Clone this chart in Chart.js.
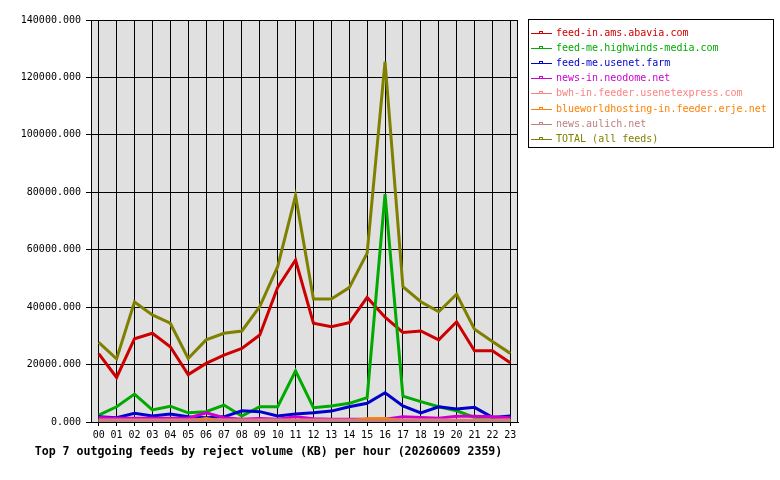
<!DOCTYPE html>
<html>
<head>
<meta charset="utf-8">
<script src="https://cdn.jsdelivr.net/npm/chart.js@4.4.1/dist/chart.umd.min.js"></script>
<style>
  html, body { margin: 0; padding: 0; background: #fff; }
  #wrap { width: 780px; height: 480px; position: relative; }
</style>
</head>
<body>
<div id="wrap"><canvas id="feeds-chart" width="780" height="480"></canvas></div>
<script>
// hours 00..23
const hours = ['00','01','02','03','04','05','06','07','08','09','10','11',
               '12','13','14','15','16','17','18','19','20','21','22','23'];

const feedNames = [
    'feed-in.ams.abavia.com',
    'feed-me.highwinds-media.com',
    'feed-me.usenet.farm',
    'news-in.neodome.net',
    'bwh-in.feeder.usenetexpress.com',
    'blueworldhosting-in.feeder.erje.net',
    'news.aulich.net',
    'TOTAL (all feeds)'
];
const feedColors = ['#cc0000', '#00aa00', '#0000cc', '#cc00cc', '#ff8080', '#ff8000', '#c08080', '#808000'];

// reject volume (KB) per hour
const abavia    = [23800, 15500, 29000, 30900, 26200, 16500, 20400, 23300, 25600, 30300, 46900, 56400,
                   34400, 33200, 34600, 43400, 36500, 31200, 31700, 28600, 34900, 24800, 24800, 20600];
const highwinds = [2400, 5300, 9700, 4200, 5500, 3200, 3600, 5900, 2100, 5300, 5300, 17800,
                   5000, 5600, 6500, 8500, 79400, 9000, 7100, 5300, 3900, 1600, 1300, 1300];
const usenetFarm = [1800, 1500, 3000, 2100, 2800, 1800, 1500, 1800, 3900, 3600, 2100, 2800,
                    3200, 3800, 5300, 6500, 10200, 5600, 3200, 5300, 4500, 5100, 1600, 2100];
const neodome   = [1600, 1300, 1300, 1300, 1300, 1300, 3200, 1500, 1000, 1200, 1000, 1800,
                   1100, 1000, 1000, 1000, 1000, 1800, 1600, 1300, 2000, 2000, 1800, 1500];
const bwh       = [700, 700, 700, 700, 700, 700, 700, 700, 700, 700, 700, 700,
                   700, 700, 700, 700, 900, 700, 700, 700, 700, 700, 700, 700];
const erje      = [300, 300, 300, 300, 300, 300, 1200, 300, 300, 300, 300, 300,
                   300, 300, 300, 1100, 1200, 300, 300, 300, 300, 300, 300, 300];
const aulich    = [400, 400, 400, 400, 400, 400, 400, 400, 400, 400, 400, 400,
                   400, 400, 400, 400, 400, 400, 400, 400, 400, 400, 400, 400];
const total     = [27700, 22000, 41800, 37300, 34400, 22100, 28600, 30900, 31700, 40200, 54100, 78800,
                   42800, 42800, 46800, 58800, 125500, 47100, 41900, 38400, 44500, 32300, 28000, 23900];

const seriesValues = [abavia, highwinds, usenetFarm, neodome, bwh, erje, aulich, total];

const titleText = 'Top 7 outgoing feeds by reject volume (KB) per hour (20260609 2359)';
const mono = '"DejaVu Sans Mono", "Liberation Mono", monospace';

const datasets = seriesValues.map((vals, i) => ({
    label: feedNames[i],
    data: vals.map((v, h) => ({x: h, y: v})),
    borderColor: feedColors[i],
    backgroundColor: feedColors[i],
    borderWidth: 3,
    pointRadius: 0,
    tension: 0,
    order: seriesValues.length - i   // later series drawn on top
}));

// gray plot background, frame, legend box and bottom title
const decor = {
    id: 'decor',
    beforeDraw(chart) {
        const {ctx, chartArea: a} = chart;
        ctx.save();
        ctx.fillStyle = '#e0e0e0';
        ctx.fillRect(a.left, a.top, a.right - a.left, a.bottom - a.top);
        ctx.restore();
    },
    afterDraw(chart) {
        const {ctx, chartArea: a} = chart;
        ctx.save();
        ctx.strokeStyle = '#000';
        ctx.lineWidth = 1;
        ctx.strokeRect(Math.round(a.left) + 0.5, Math.round(a.top) + 0.5,
                       Math.round(a.right - a.left) - 1, Math.round(a.bottom - a.top));

        // legend
        ctx.fillStyle = '#fff';
        ctx.fillRect(528.5, 19.5, 245, 128);
        ctx.strokeRect(528.5, 19.5, 245, 128);
        ctx.font = '10px ' + mono;
        ctx.textBaseline = 'middle';
        ctx.textAlign = 'left';
        chart.data.datasets.forEach((ds, i) => {
            const y = Math.round(33 + i * 15.1) + 0.5;
            ctx.strokeStyle = ds.borderColor;
            ctx.beginPath();
            ctx.moveTo(531, y);
            ctx.lineTo(552, y);
            ctx.stroke();
            ctx.strokeRect(539.5, y - 2, 3, 2);
            ctx.fillStyle = ds.borderColor;
            ctx.fillText(ds.label, 556, y);
        });

        // title under the axis
        ctx.fillStyle = '#000';
        ctx.font = 'bold 11.6px ' + mono;
        ctx.textAlign = 'center';
        ctx.fillText(titleText, 268.5, 452);
        ctx.restore();
    }
};

const config = {
    type: 'line',
    data: { datasets: datasets },
    options: {
        responsive: false,
        animation: false,
        layout: { padding: { top: 20, right: 262, left: 0, bottom: 0 } },
        plugins: {
            legend: { display: false },
            tooltip: { enabled: false }
        },
        scales: {
            x: {
                type: 'linear',
                min: -0.43,
                max: 23.43,
                afterBuildTicks: (s) => { s.ticks = hours.map((h, i) => ({value: i})); },
                afterFit: (s) => { s.height = 58; },
                ticks: {
                    autoSkip: false,
                    maxRotation: 0,
                    padding: 3,
                    color: '#000',
                    font: { family: mono, size: 10 },
                    callback: (v) => hours[v]
                },
                grid: { color: '#000', lineWidth: 1, tickLength: 4, drawTicks: true },
                border: { color: '#000', width: 1 }
            },
            y: {
                min: 0,
                max: 140000,
                afterFit: (s) => { s.width = 91; },
                ticks: {
                    stepSize: 20000,
                    padding: 5,
                    color: '#000',
                    font: { family: mono, size: 10 },
                    callback: (v) => v.toFixed(3)
                },
                grid: { color: '#000', lineWidth: 1, tickLength: 5 },
                border: { color: '#000', width: 1 }
            }
        }
    },
    plugins: [decor]
};

const chart = new Chart(document.getElementById('feeds-chart'), config);
</script>
</body>
</html>
